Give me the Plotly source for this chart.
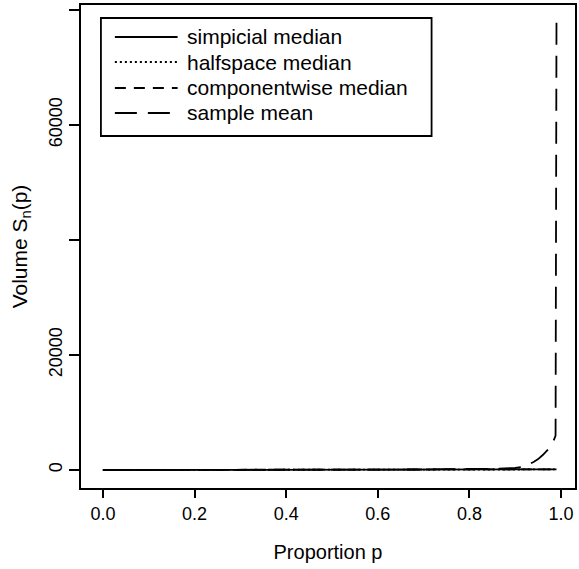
import plotly.graph_objects as go

# ---- data ----
p_grid = [0.0, 0.1, 0.2, 0.3, 0.4, 0.5, 0.6, 0.7, 0.75, 0.8, 0.85, 0.9, 0.92, 0.94,
          0.95, 0.96, 0.97, 0.98, 0.988, 0.99]
simplicial_median = [0, 1, 2, 3, 5, 7, 10, 14, 17, 21, 27, 36, 42, 50, 56, 63, 72, 85, 100, 110]
halfspace_median = [0, 1, 2, 3, 5, 7, 10, 13, 16, 20, 25, 33, 39, 46, 52, 58, 66, 78, 92, 100]
componentwise_median = [0, 1, 2, 4, 6, 9, 13, 18, 22, 27, 35, 46, 54, 64, 72, 80, 92, 108, 125, 135]
sample_mean = [0, 3, 8, 15, 25, 40, 60, 90, 150, 170, 200, 350, 600, 1400, 1900, 2600, 3400,
               4300, 6000, 77900]

series_names = ["simpicial median", "halfspace median", "componentwise median", "sample mean"]
series_values = [simplicial_median, halfspace_median, componentwise_median, sample_mean]
dash_styles = ["solid", "2px,3px", "11px,8px", "22px,11px"]

x_ticks = [0.0, 0.2, 0.4, 0.6, 0.8, 1.0]
x_ticklabels = ["0.0", "0.2", "0.4", "0.6", "0.8", "1.0"]
y_ticks = [0, 20000, 40000, 60000, 80000]
y_ticklabels = ["0", "20000", "", "60000", ""]

FONT = "Liberation Sans, Arial, Helvetica, sans-serif"
W, H = 579, 569
L, R, T, B = 81, 2, 5, 81
PW, PH = W - L - R, H - T - B

fig = go.Figure()
for name, vals, dash in zip(series_names, series_values, dash_styles):
    fig.add_trace(go.Scatter(x=p_grid, y=vals, mode="lines", name=name,
                             line=dict(color="black", width=1.8, dash=dash),
                             showlegend=False))

def px2paper_x(px):
    return (px - L) / PW

def px2paper_y(py):
    return (H - B - py) / PH

# manual legend (R style)
shapes = [dict(type="rect", xref="paper", yref="paper",
               x0=px2paper_x(101), x1=px2paper_x(433),
               y0=px2paper_y(136), y1=px2paper_y(18),
               line=dict(color="black", width=1.8), fillcolor="white")]
annotations = []
row_y = [37, 62, 88, 113]
for name, dash, ry in zip(series_names, dash_styles, row_y):
    shapes.append(dict(type="line", xref="paper", yref="paper",
                       x0=px2paper_x(115), x1=px2paper_x(178),
                       y0=px2paper_y(ry), y1=px2paper_y(ry),
                       line=dict(color="black", width=1.8, dash=dash)))
    annotations.append(dict(xref="paper", yref="paper", x=px2paper_x(185), y=px2paper_y(ry),
                            text=name, showarrow=False, xanchor="left", yanchor="middle",
                            font=dict(family=FONT, size=21, color="black")))

fig.update_layout(
    width=W, height=H,
    margin=dict(l=L, r=R, t=T, b=B, pad=0),
    paper_bgcolor="white", plot_bgcolor="white",
    font=dict(family=FONT, size=18, color="black"),
    shapes=shapes, annotations=annotations,
    showlegend=False,
)
fig.update_xaxes(range=[-0.0478, 1.0304], tickvals=x_ticks, ticktext=x_ticklabels,
                 ticks="outside", ticklen=8, tickwidth=1.8, tickcolor="black",
                 showline=True, linecolor="black", linewidth=1.8, mirror=True,
                 showgrid=False, zeroline=False,
                 tickfont=dict(family=FONT, size=18),
                 title=dict(text="Proportion p", font=dict(family=FONT, size=20), standoff=22))
fig.update_yaxes(range=[-3130, 80870], tickvals=y_ticks, ticktext=y_ticklabels,
                 ticks="outside", ticklen=10, tickwidth=1.8, tickcolor="black", tickangle=-90,
                 showline=True, linecolor="black", linewidth=1.8, mirror=True,
                 showgrid=False, zeroline=False,
                 tickfont=dict(family=FONT, size=18),
                 title=dict(text="Volume S<sub>n</sub>(p)", font=dict(family=FONT, size=21), standoff=13))

fig.write_html("out.html")
